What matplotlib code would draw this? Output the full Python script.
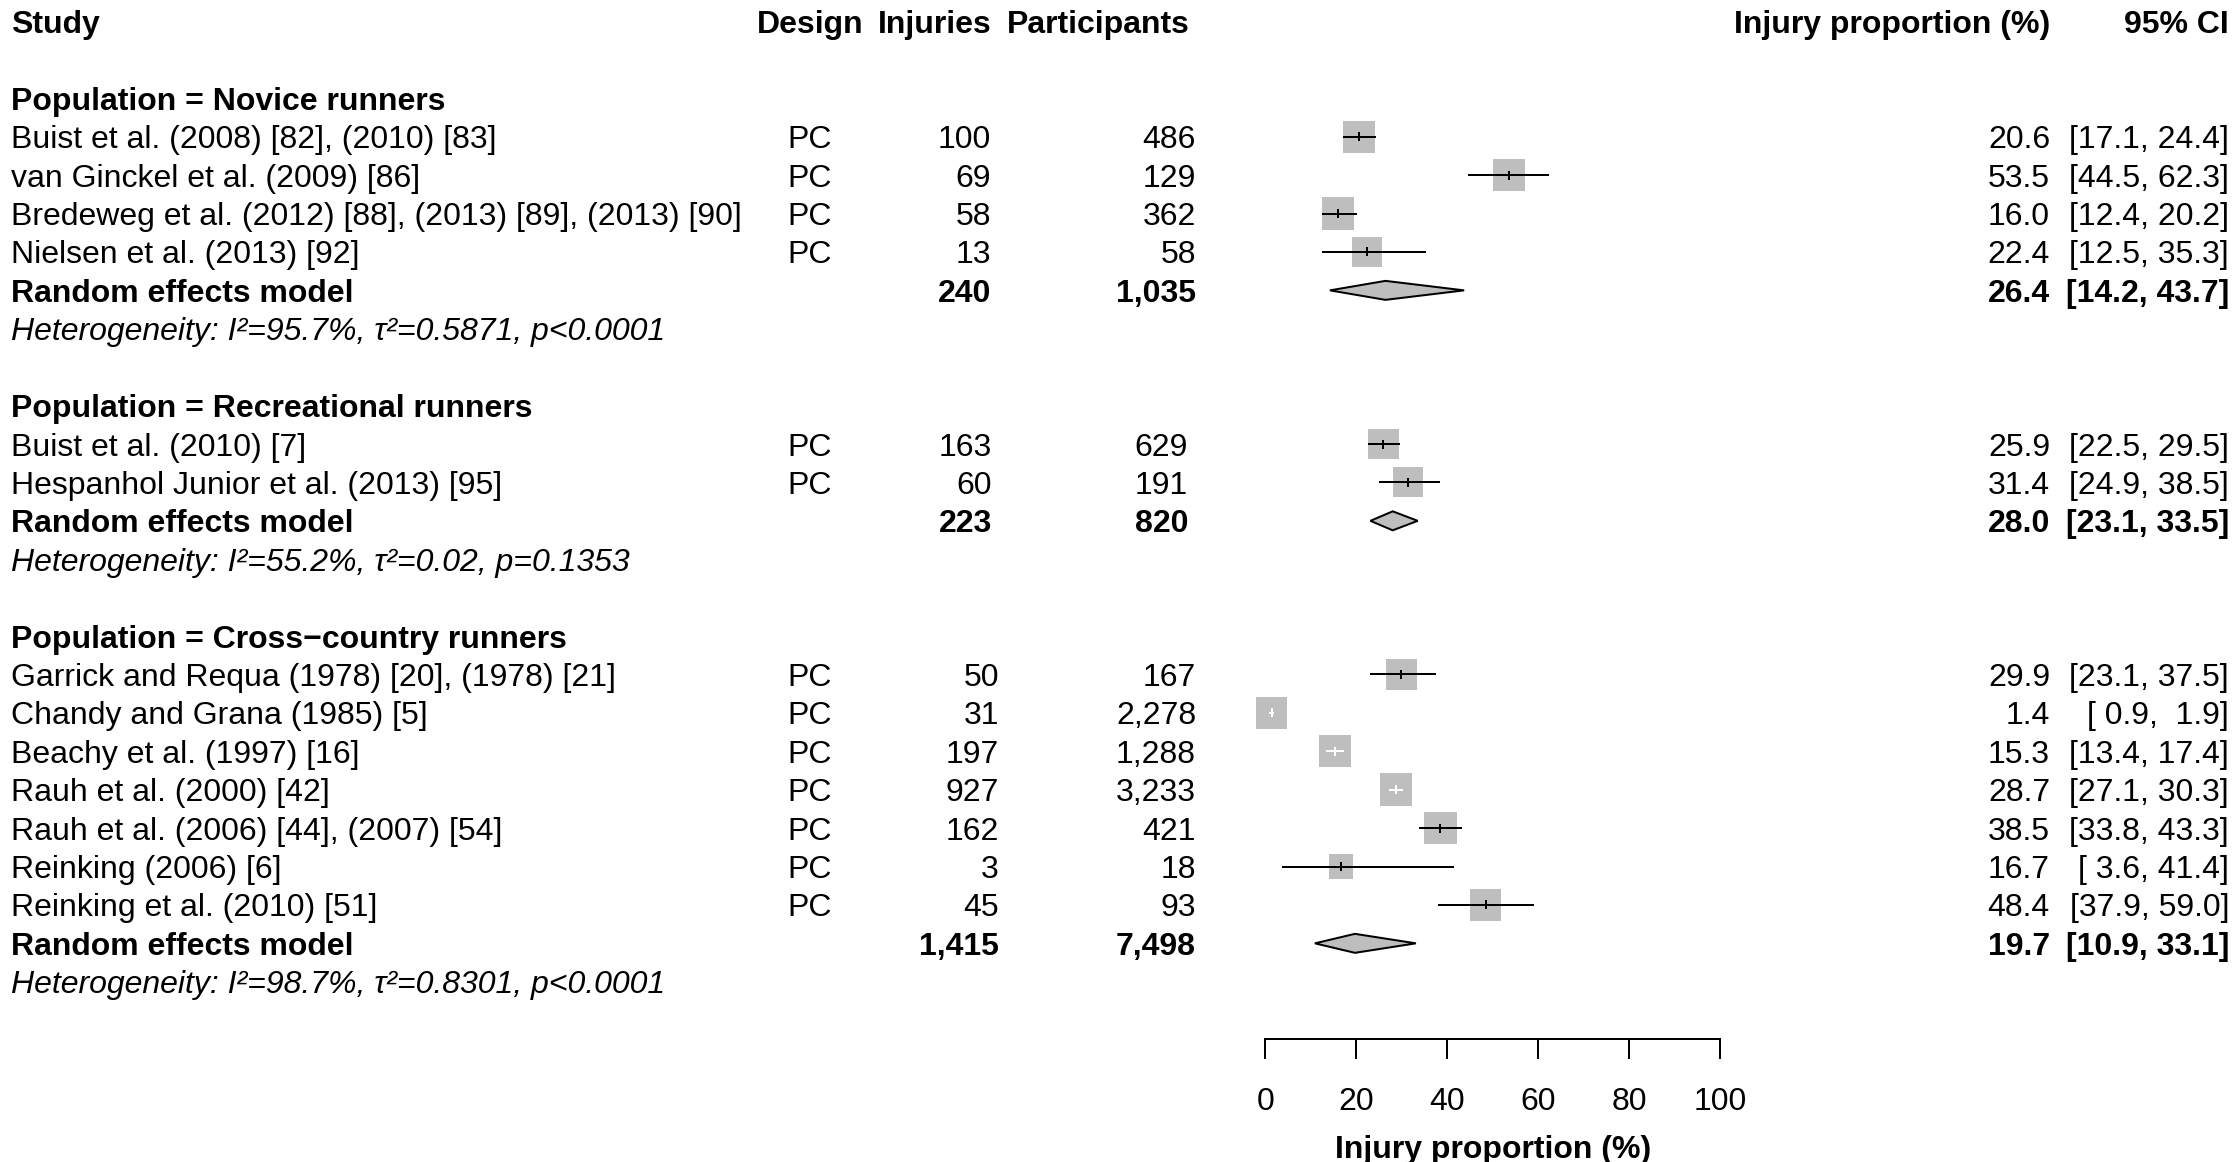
import matplotlib
matplotlib.use("Agg")
import matplotlib.pyplot as plt
from matplotlib.patches import Rectangle, Polygon
from matplotlib.transforms import blended_transform_factory
import numpy as np

plt.rcParams['font.family'] = ['Liberation Sans', 'DejaVu Sans']

# ---------------- data ----------------
groups = ["Novice runners", "Recreational runners", "Cross\u2212country runners"]
studies = [
    "Buist et al. (2008) [82], (2010) [83]",
    "van Ginckel et al. (2009) [86]",
    "Bredeweg et al. (2012) [88], (2013) [89], (2013) [90]",
    "Nielsen et al. (2013) [92]",
    "Buist et al. (2010) [7]",
    "Hespanhol Junior et al. (2013) [95]",
    "Garrick and Requa (1978) [20], (1978) [21]",
    "Chandy and Grana (1985) [5]",
    "Beachy et al. (1997) [16]",
    "Rauh et al. (2000) [42]",
    "Rauh et al. (2006) [44], (2007) [54]",
    "Reinking (2006) [6]",
    "Reinking et al. (2010) [51]",
]
study_group = [0, 0, 0, 0, 1, 1, 2, 2, 2, 2, 2, 2, 2]
design = ["PC"] * 13
injuries = [100, 69, 58, 13, 163, 60, 50, 31, 197, 927, 162, 3, 45]
participants = [486, 129, 362, 58, 629, 191, 167, 2278, 1288, 3233, 421, 18, 93]
prop = [20.6, 53.5, 16.0, 22.4, 25.9, 31.4, 29.9, 1.4, 15.3, 28.7, 38.5, 16.7, 48.4]
ci_lo = [17.1, 44.5, 12.4, 12.5, 22.5, 24.9, 23.1, 0.9, 13.4, 27.1, 33.8, 3.6, 37.9]
ci_hi = [24.4, 62.3, 20.2, 35.3, 29.5, 38.5, 37.5, 1.9, 17.4, 30.3, 43.3, 41.4, 59.0]
weights = [8.2, 8.1, 8.4, 7.1, 7.7, 7.2, 7.7, 7.9, 8.3, 8.6, 8.4, 4.8, 7.9]

re_inj = [240, 223, 1415]
re_part = [1035, 820, 7498]
re_est = [26.4, 28.0, 19.7]
re_lo = [14.2, 23.1, 10.9]
re_hi = [43.7, 33.5, 33.1]
het_i2 = ["95.7%", "55.2%", "98.7%"]
het_tau2 = ["0.5871", "0.02", "0.8301"]
het_p = ["p<0.0001", "p=0.1353", "p<0.0001"]

xticks = [0, 20, 40, 60, 80, 100]
headers = ["Study", "Design", "Injuries", "Participants", "Injury proportion (%)", "95% CI"]

# ---------------- layout ----------------
W, H, DPI = 2236, 1162, 100
Y0, DY = 21.5, 38.41          # pixel y of row 0, pixels per row
X0PX, X100PX = 1265.3, 1720.3  # pixel x of 0 and 100 on the axis
AXIS_PX = 1039
PXU = (X100PX - X0PX) / 100.0
FS = 23
LW = 1.44
GRAY = '#BEBEBE'
SMAX = 32.7

# column x positions (pixels)
X_STUDY = 11
X_DESIGN = 810
X_INJ_HDR = 992
X_PART_HDR = 1190
inj_right = [991, 992, 999]
part_right = [1196, 1188, 1196]
X_PROP = 2050
X_CI = 2229

fig = plt.figure(figsize=(W / DPI, H / DPI), dpi=DPI)
row_top = (0 - Y0) / DY
row_bot = (AXIS_PX - Y0) / DY
ax = fig.add_axes([X0PX / W, (H - AXIS_PX) / H, (X100PX - X0PX) / W, AXIS_PX / H])
ax.set_xlim(0, 100)
ax.set_ylim(row_bot, row_top)
ax.patch.set_visible(False)
for s in ['top', 'left', 'right']:
    ax.spines[s].set_visible(False)
ax.spines['bottom'].set_bounds(0, 100)
ax.spines['bottom'].set_linewidth(LW)
ax.set_yticks([])
ax.set_xticks(xticks)
ax.set_xticklabels([str(t) for t in xticks])
ax.tick_params(axis='x', direction='out', length=20 * 72 / DPI, width=LW,
               pad=20, labelsize=FS)
ax.set_xlabel("Injury proportion (%)", fontsize=FS, fontweight='bold', labelpad=13)

tr = blended_transform_factory(fig.transFigure, ax.transData)


def txt(xpx, row, s, ha='left', **kw):
    ax.text(xpx / W, row, s, transform=tr, ha=ha, va='center_baseline',
            fontsize=FS, **kw)


# header
hx = [(X_STUDY, 'left'), (X_DESIGN, 'center'), (X_INJ_HDR, 'right'),
      (X_PART_HDR, 'right'), (X_PROP, 'right'), (X_CI, 'right')]
for (xp, ha), h in zip(hx, headers):
    txt(xp, 0, h, ha=ha, fontweight='bold')

maxw = max(weights)
row = 0
for g, gname in enumerate(groups):
    row += 2
    txt(X_STUDY, row, "Population = " + gname, fontweight='bold')
    for i in [k for k, sg in enumerate(study_group) if sg == g]:
        row += 1
        txt(X_STUDY, row, studies[i])
        txt(X_DESIGN, row, design[i], ha='center')
        txt(inj_right[g], row, f"{injuries[i]:,}", ha='right')
        txt(part_right[g], row, f"{participants[i]:,}", ha='right')
        txt(X_PROP, row, f"{prop[i]:.1f}", ha='right')
        txt(X_CI, row, f"[{ci_lo[i]:4.1f}, {ci_hi[i]:4.1f}]", ha='right')
        side = SMAX * np.sqrt(weights[i] / maxw)
        ax.add_patch(Rectangle((prop[i] - side / PXU / 2, row - side / DY / 2),
                               side / PXU, side / DY, facecolor=GRAY,
                               edgecolor='none', clip_on=False, zorder=2))
        col = 'white' if (ci_hi[i] - ci_lo[i]) * PXU < side else 'black'
        ax.plot([ci_lo[i], ci_hi[i]], [row, row], color=col, lw=LW,
                solid_capstyle='butt', clip_on=False, zorder=3)
        tk = 4.5 / DY
        ax.plot([prop[i], prop[i]], [row - tk, row + tk], color=col, lw=LW,
                solid_capstyle='butt', clip_on=False, zorder=3)
    row += 1
    txt(X_STUDY, row, "Random effects model", fontweight='bold')
    txt(inj_right[g], row, f"{re_inj[g]:,}", ha='right', fontweight='bold')
    txt(part_right[g], row, f"{re_part[g]:,}", ha='right', fontweight='bold')
    txt(X_PROP, row, f"{re_est[g]:.1f}", ha='right', fontweight='bold')
    txt(X_CI, row, f"[{re_lo[g]:4.1f}, {re_hi[g]:4.1f}]", ha='right', fontweight='bold')
    dh = 9.5 / DY
    ax.add_patch(Polygon([(re_lo[g], row), (re_est[g], row - dh),
                          (re_hi[g], row), (re_est[g], row + dh)],
                         closed=True, facecolor=GRAY, edgecolor='black',
                         lw=LW, clip_on=False, zorder=3))
    row += 1
    txt(X_STUDY, row,
        f"Heterogeneity: I\u00b2={het_i2[g]}, \u03c4\u00b2={het_tau2[g]}, {het_p[g]}",
        fontstyle='italic')

fig.savefig("out.png", dpi=DPI)
